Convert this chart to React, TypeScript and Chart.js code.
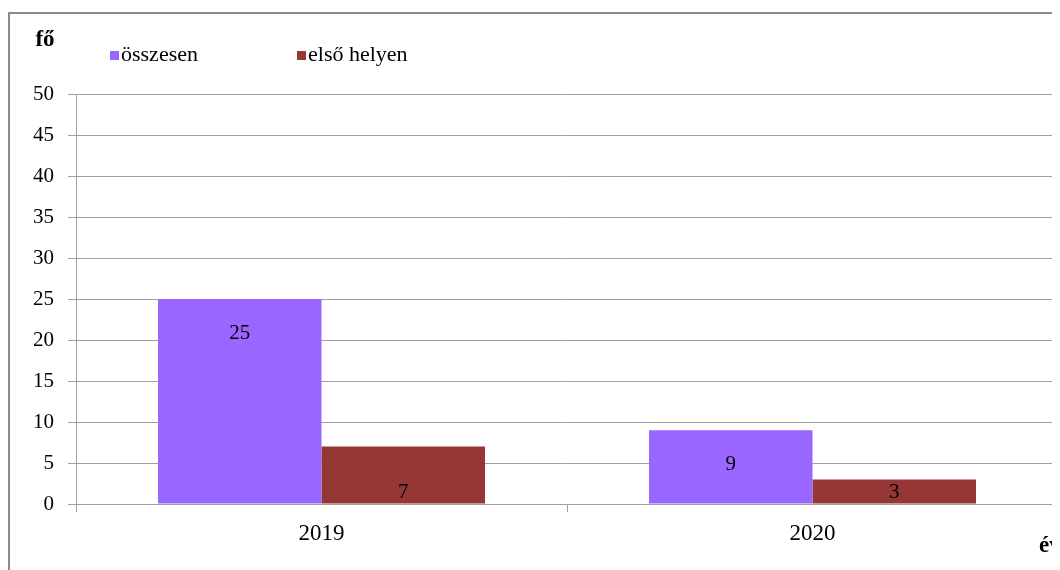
import React, { useEffect, useRef } from "react";
import { Chart, registerables } from "chart.js";

Chart.register(...registerables);

const categories = ["2019", "2020"];
const seriesNames = ["összesen", "első helyen"];
const totalValues = [25, 9];
const firstPlaceValues = [7, 3];
const yAxisTitle = "fő";
const xAxisTitle = "év";
const colors = ["#9966FF", "#953735"];

const FONT = "'Liberation Serif', 'Times New Roman', serif";

const decorPlugin = {
  id: "decor",
  beforeDraw(chart: any) {
    const ctx = chart.ctx;
    ctx.save();
    ctx.strokeStyle = "#8c8c8c";
    ctx.lineWidth = 2;
    ctx.beginPath();
    ctx.moveTo(1, chart.height + 5);
    ctx.lineTo(1, 5);
    ctx.lineTo(chart.width + 5, 5);
    ctx.stroke();
    ctx.restore();
  },
  afterDraw(chart: any) {
    const ctx = chart.ctx;
    ctx.save();
    // axis titles
    ctx.fillStyle = "#000";
    ctx.font = `bold 23px ${FONT}`;
    ctx.textAlign = "center";
    ctx.textBaseline = "middle";
    ctx.fillText(yAxisTitle, 37, 32);
    ctx.textAlign = "left";
    ctx.fillText(xAxisTitle, 1031, 538);
    // legend
    const legendX = [102, 289];
    ctx.font = `22px ${FONT}`;
    ctx.textBaseline = "middle";
    chart.data.datasets.forEach((ds: any, i: number) => {
      const x = legendX[i];
      const y = 47;
      ctx.fillStyle = ds.backgroundColor;
      ctx.fillRect(x, y - 4, 9, 9);
      ctx.fillStyle = "#000";
      ctx.fillText(ds.label, x + 11, y);
    });
    // data labels
    ctx.font = `21px ${FONT}`;
    ctx.textAlign = "center";
    ctx.textBaseline = "middle";
    chart.data.datasets.forEach((ds: any, i: number) => {
      const meta = chart.getDatasetMeta(i);
      meta.data.forEach((bar: any, j: number) => {
        const h = bar.base - bar.y;
        const y = h > 60 ? bar.y + 34 : bar.base - 11;
        ctx.fillStyle = "#000";
        ctx.fillText(String(ds.data[j]), bar.x, y);
      });
    });
    ctx.restore();
  },
};

export default function App() {
  const ref = useRef<HTMLCanvasElement | null>(null);
  useEffect(() => {
    if (!ref.current) return;
    const chart = new Chart(ref.current, {
      type: "bar",
      data: {
        labels: categories,
        datasets: [
          { label: seriesNames[0], data: totalValues, backgroundColor: colors[0], borderWidth: 0 },
          { label: seriesNames[1], data: firstPlaceValues, backgroundColor: colors[1], borderWidth: 0 },
        ],
      },
      options: {
        responsive: false,
        animation: false,
        devicePixelRatio: 1,
        categoryPercentage: 0.666,
        barPercentage: 1,
        layout: { padding: { top: 86, right: 2, left: 0, bottom: 0 } },
        plugins: { legend: { display: false }, tooltip: { enabled: false } },
        scales: {
          x: {
            afterFit(scale: any) {
              scale.height = 66;
            },
            grid: {
              drawOnChartArea: false,
              drawTicks: true,
              tickLength: 8,
              color: "#a0a0a0",
            },
            border: { color: "#a0a0a0" },
            ticks: { color: "#000", font: { family: FONT, size: 23 }, padding: 8 },
          },
          y: {
            min: 0,
            max: 50,
            afterFit(scale: any) {
              scale.width = 68;
            },
            grid: { color: "#a0a0a0", tickLength: 8 },
            border: { color: "#a0a0a0" },
            ticks: { stepSize: 5, color: "#000", font: { family: FONT, size: 21 }, padding: 14 },
          },
        },
      },
      plugins: [decorPlugin],
    });
    return () => chart.destroy();
  }, []);
  return (
    <canvas
      ref={ref}
      width={1052}
      height={562}
      style={{ display: "block", width: 1052, height: 562 }}
    />
  );
}
